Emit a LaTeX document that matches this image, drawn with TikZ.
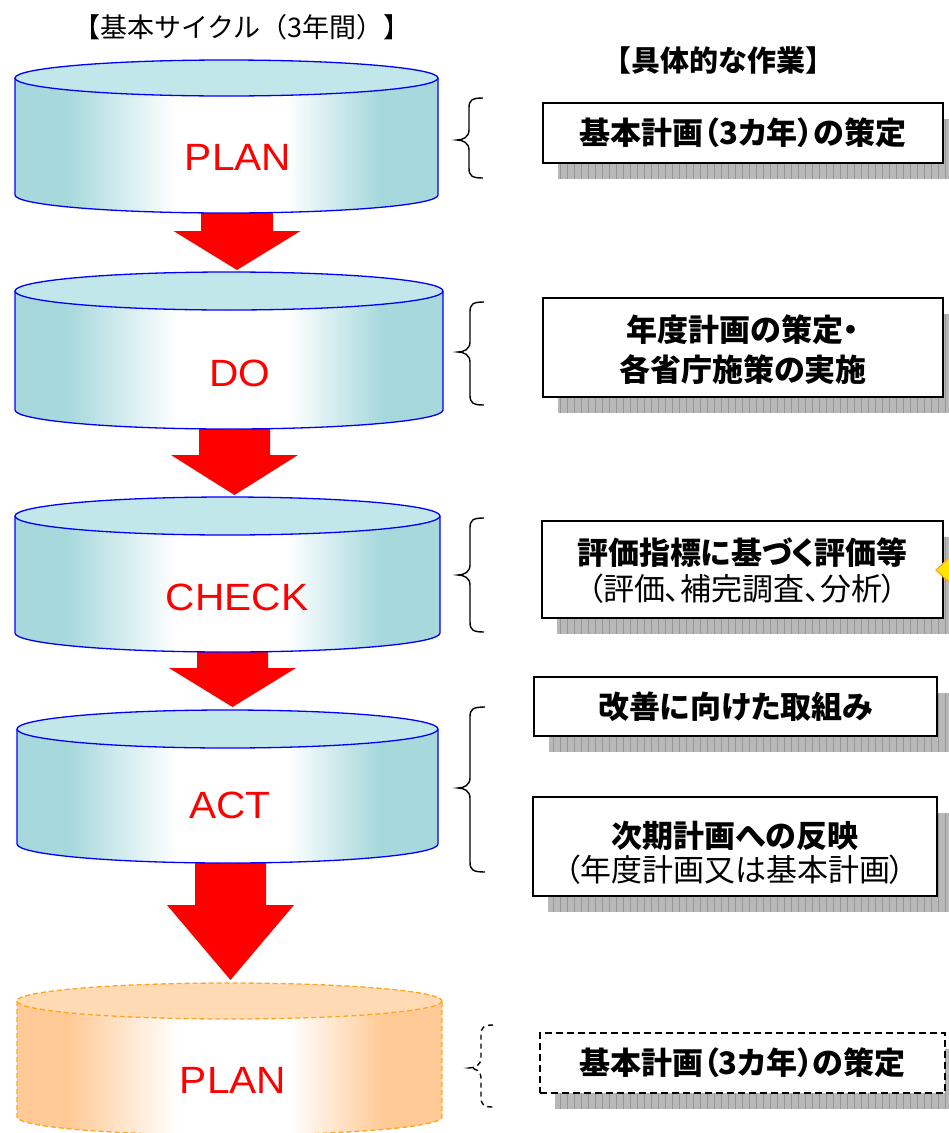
\documentclass[tikz,border=0pt]{standalone}
\usepackage{fontspec}
\setmainfont{Noto Sans CJK JP}[RawFeature=+palt]
\newfontfamily\jpfull{Noto Sans CJK JP}
\newfontfamily\latinf{Liberation Sans}[FakeStretch=1.07]
\definecolor{cyside}{RGB}{166,216,220}
\definecolor{cytop}{RGB}{194,231,234}
\definecolor{orside}{RGB}{255,202,150}
\definecolor{ortop}{RGB}{255,218,178}
\definecolor{orline}{RGB}{255,165,30}
\definecolor{shadowgray}{RGB}{184,184,184}
\definecolor{shadowline}{RGB}{150,150,150}
\definecolor{diayellow}{RGB}{255,230,0}
\pgfdeclarehorizontalshading{tealside}{100bp}{color(0bp)=(cyside); color(25bp)=(cyside); color(31bp)=(cyside); color(44bp)=(white); color(57bp)=(white); color(68bp)=(cyside); color(75bp)=(cyside); color(100bp)=(cyside)}
\pgfdeclarehorizontalshading{orside}{100bp}{color(0bp)=(orside); color(25bp)=(orside); color(31bp)=(orside); color(44bp)=(white); color(57bp)=(white); color(68bp)=(orside); color(75bp)=(orside); color(100bp)=(orside)}
\tikzset{
  tealline/.style={draw=blue, line width=1.3},
  orline/.style={draw=orline, line width=1.3, dash pattern=on 5pt off 3pt},
  cyllabel/.style={text=red, font=\latinf\fontsize{38}{42}\selectfont, inner sep=0},
  workbox/.style={draw=black, line width=1.6, fill=white, inner sep=0},
  worktext/.style={align=center, inner sep=0, font=\fontsize{31}{38}\selectfont},
  bracestyle/.style={draw=black, line width=1.4},
  blockarrow/.style={fill=red}
}
% #1 cx, #2 top centre y, #3 bottom centre y, #4 rx, #5 ry, #6 shading, #7 top colour, #8 line style
\newcommand\mycyl[8]{%
  \shade[shading=#6] (#1-#4,#2) -- (#1-#4,#3) arc[start angle=180,end angle=0,x radius=#4,y radius=#5]
     -- (#1+#4,#2) arc[start angle=0,end angle=180,x radius=#4,y radius=#5] -- cycle;
  \fill[#7] (#1,#2) ellipse[x radius=#4,y radius=#5];
  \draw[#8] (#1-#4,#2) -- (#1-#4,#3) arc[start angle=180,end angle=0,x radius=#4,y radius=#5] -- (#1+#4,#2);
  \draw[#8] (#1,#2) ellipse[x radius=#4,y radius=#5];
}
% #1 cx, #2 top, #3 shoulder, #4 tip, #5 half shaft, #6 half head
\newcommand\myarrow[6]{%
  \fill[blockarrow] (#1-#5,#2) -- (#1-#5,#3) -- (#1-#6,#3) -- (#1,#4) -- (#1+#6,#3)
     -- (#1+#5,#3) -- (#1+#5,#2) -- cycle;
}
% #1 x1 #2 y1 #3 x2 #4 y2 (box corners), shadow offset by (15,16)
\newcommand\myshadow[4]{%
  \begin{scope}
    \clip (#1+15,#2+16) rectangle (#3+15,#4+16);
    \fill[shadowgray] (#1+15,#2+16) rectangle (#3+15,#4+16);
    \draw[shadowline, line width=0.5, step=7] (#1+15,#2+16) grid (#3+15,#4+16);
  \end{scope}
}
% #1 tip x, #2 end x, #3 top y, #4 tip y, #5 bottom y, #6 style
\newcommand\mybrace[6]{%
  \draw[#6] (#2,#3) .. controls (#1+15,#3) and (#1+12,#3+2) .. (#1+12,#3+10)
     -- (#1+12,#4-10) .. controls (#1+12,#4-3) and (#1+6,#4) .. (#1,#4)
     .. controls (#1+6,#4) and (#1+12,#4+3) .. (#1+12,#4+10)
     -- (#1+12,#5-10) .. controls (#1+12,#5-2) and (#1+15,#5) .. (#2,#5);
}
\begin{document}
\begin{tikzpicture}[x=1pt,y=-1pt]
\useasboundingbox (0,0) rectangle (949,1133);
\fill[white] (0,0) rectangle (949,1133);

% titles
\node[font=\jpfull\fontsize{27}{30}\selectfont, inner sep=0] (title1) at (242,27) {【基本サイクル（3年間）】};
\node[font=\jpfull\bfseries\fontsize{29}{32}\selectfont, inner sep=0] (title2) at (718,60) {【具体的な作業】};

% block arrows
\myarrow{237}{200}{231}{270}{36}{63.5}
\myarrow{234.5}{415}{455}{495}{35.5}{63.5}
\myarrow{232.5}{640}{668}{707}{35.5}{63.5}
\myarrow{230.5}{850}{905}{980}{35.5}{63.5}

% cylinders
\mycyl{226.5}{78}{195}{211.5}{18}{tealside}{cytop}{tealline}
\mycyl{229}{291}{410}{214}{19}{tealside}{cytop}{tealline}
\mycyl{227.5}{516}{633}{212.5}{19}{tealside}{cytop}{tealline}
\mycyl{227.5}{729}{844}{210.5}{19}{tealside}{cytop}{tealline}
\mycyl{229.5}{1001}{1117}{212.5}{18}{orside}{ortop}{orline}

\node[cyllabel] (plan1) at (238,157) {PLAN};
\node[cyllabel] (do) at (240,373) {DO};
\node[cyllabel] (check) at (237,597) {CHECK};
\node[cyllabel] (act) at (230,805) {ACT};
\node[cyllabel] (plan2) at (233,1080) {PLAN};

% braces
\mybrace{457}{483}{98}{140}{178}{bracestyle}
\mybrace{458}{484}{302}{352}{405}{bracestyle}
\mybrace{458}{484}{518}{575}{632}{bracestyle}
\mybrace{458}{485}{707}{788}{872}{bracestyle}
\mybrace{469}{493}{1025}{1068}{1107}{bracestyle, dash pattern=on 5pt off 4pt}

% shadows
\myshadow{543}{103}{943}{163}
\myshadow{543}{298}{943}{397}
\myshadow{542}{521}{943}{618}
\myshadow{534}{677}{937}{736}
\myshadow{533}{797}{937}{896}
\myshadow{540}{1033}{945}{1093}

% work boxes
\node[workbox, minimum width=400, minimum height=60] (w1) at (743,133) {};
\node[worktext] (w1t) at (w1) {\bfseries 基本計画（3カ年）の策定};
\node[workbox, minimum width=400, minimum height=99] (w2) at (743,347.5) {};
\node[worktext, font=\fontsize{31}{40}\selectfont] (w2t) at (743,350)
  {\bfseries 年度計画の策定・\\\bfseries 各省庁施策の実施};
\node[workbox, minimum width=401, minimum height=97] (w3) at (742.5,569.5) {};
\node[worktext, font=\fontsize{31}{36}\selectfont] (w3t) at (742.5,570.5)
  {\bfseries 評価指標に基づく評価等\\（評価、補完調査、分析）};
\node[workbox, minimum width=403, minimum height=59] (w4) at (735.5,706.5) {};
\node[worktext] (w4t) at (w4) {\bfseries 改善に向けた取組み};
\node[workbox, minimum width=404, minimum height=99] (w5) at (735,846.5) {};
\node[worktext, font=\fontsize{31}{34}\selectfont] (w5t) at (735,853)
  {\bfseries 次期計画への反映\\（年度計画又は基本計画）};
\node[workbox, dash pattern=on 7pt off 4pt, minimum width=405, minimum height=60] (w6) at (742.5,1063) {};
\node[worktext] (w6t) at (w6) {\bfseries 基本計画（3カ年）の策定};

% yellow marker at right edge
\filldraw[fill=diayellow, draw=orline, line width=1.2] (936,570) -- (950,557) -- (964,570) -- (950,583) -- cycle;
\end{tikzpicture}
\end{document}
